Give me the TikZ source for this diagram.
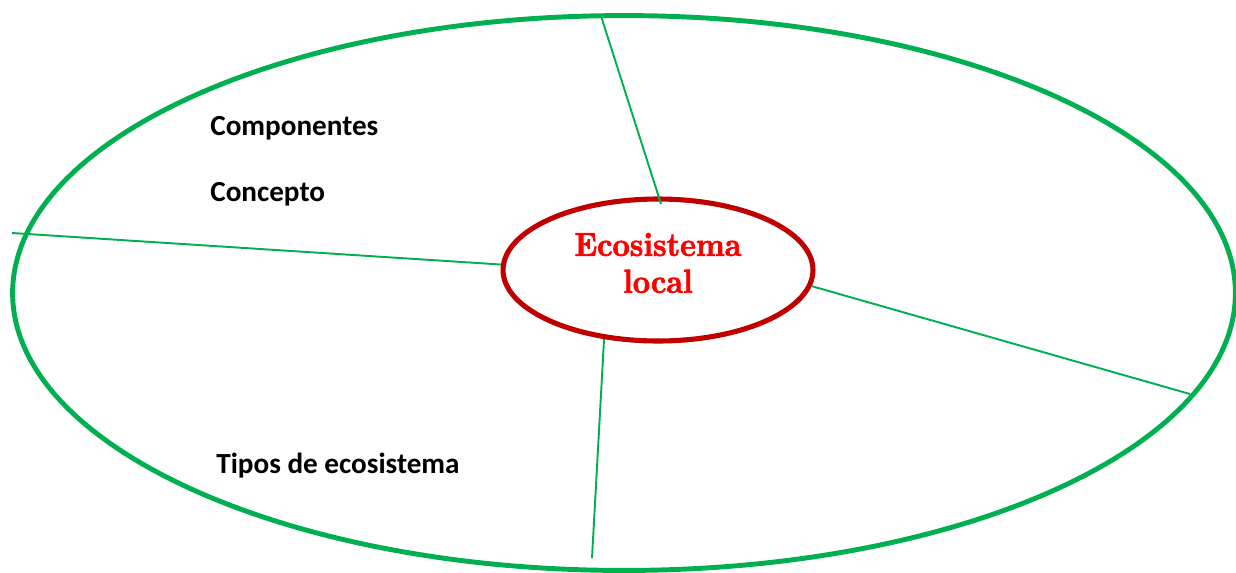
\documentclass[tikz,border=0pt]{standalone}
\usepackage{fontspec}
\newfontfamily\labelfont{Carlito}
\newfontface\ecofont{lmroman10-bold.otf}[FakeBold=2,FakeStretch=0.9]
\usetikzlibrary{shapes.geometric}

\definecolor{ecogreen}{RGB}{0,176,80}
\definecolor{ecored}{RGB}{192,0,0}

\tikzstyle{outerring}=[ellipse,
                       draw=ecogreen,
                       line width=2.8pt,
                       inner sep=0pt,
                       minimum width=24.46cm,
                       minimum height=11.1cm]
\tikzstyle{centerring}=[ellipse,
                        draw=ecored,
                        line width=2.9pt,
                        inner sep=0pt,
                        minimum width=6.2cm,
                        minimum height=2.84cm]
\tikzstyle{spoke}=[draw=ecogreen, line width=1.1pt]
\tikzstyle{topic}=[anchor=base west,
                   inner sep=0pt,
                   font=\labelfont\bfseries\fontsize{16.6}{19}\selectfont]

\begin{document}
\begin{tikzpicture}[x=0.02cm,y=-0.02cm]
    \useasboundingbox (0,0) rectangle (1236,572);
    \node [outerring] (ring) at (624,293) {};
    \node [centerring] (eco) at (658,270) {};
    \node [align=center, inner sep=0pt, text=red,
           font=\ecofont\fontsize{19}{21}\selectfont] (ecotext) at (658,263) {Ecosistema\\local};

    % free ends of the spokes
    \coordinate (sptop) at (601,16);
    \coordinate (spin) at (661,204);
    \coordinate (spleft) at (12,233);
    \coordinate (spright) at (1190,394);
    \coordinate (spbottom) at (592,558);

    \draw [spoke] (sptop) -- (spin);
    \draw [spoke] (spleft) -- (eco.178);
    \draw [spoke] (eco.354) -- (spright);
    \draw [spoke] (eco.232) -- (spbottom);

    \node [topic] (comp) at (210,135) {Componentes};
    \node [topic] (conc) at (210,201) {Concepto};
    \node [topic] (tipos) at (216,473) {Tipos de ecosistema};
\end{tikzpicture}
\end{document}
